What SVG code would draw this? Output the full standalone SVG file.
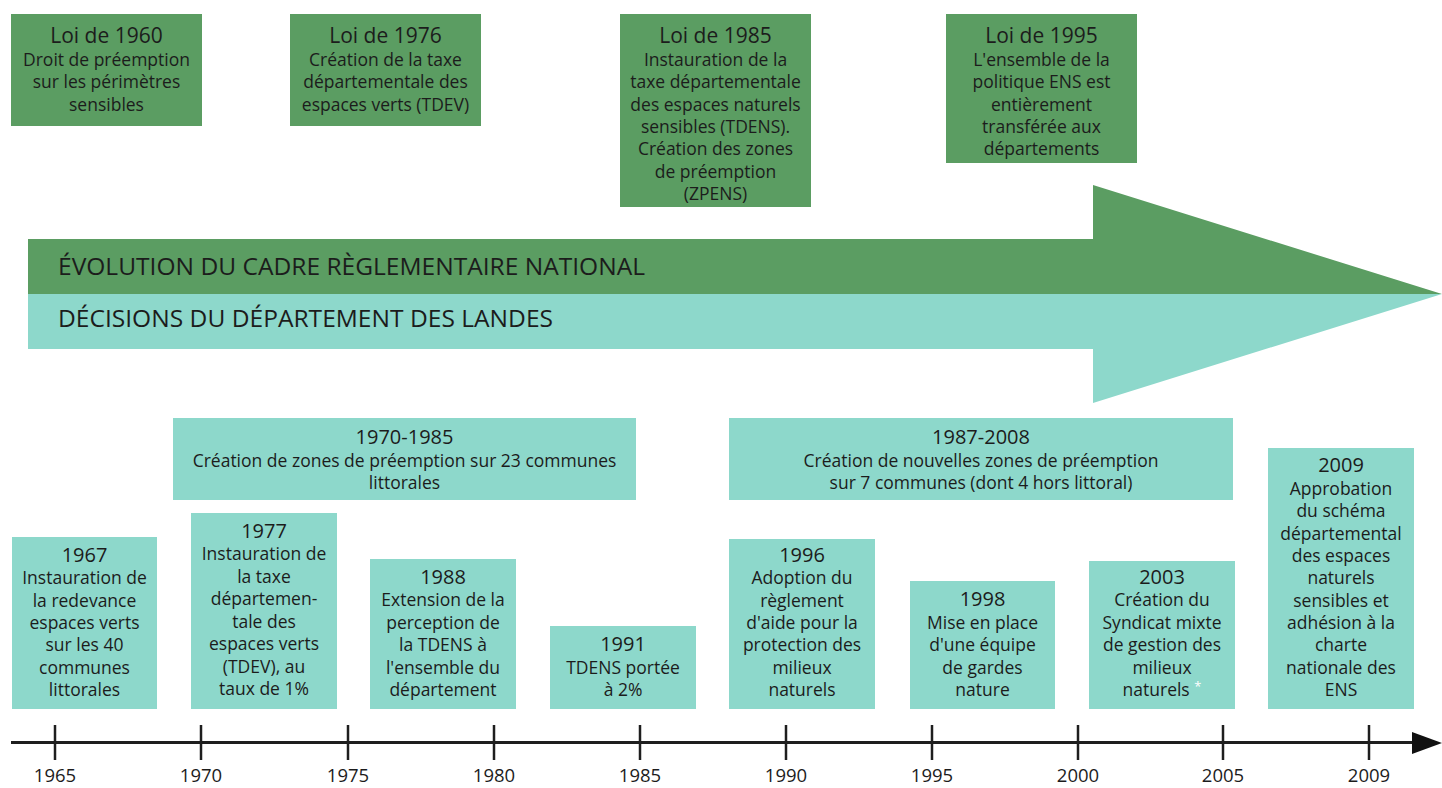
<svg xmlns="http://www.w3.org/2000/svg" width="1442" height="788" viewBox="0 0 1442 788">
<style>
.g{fill:#5b9d62}
.c{fill:#8dd8cb}
text{font-family:"Open Sans","Liberation Sans",sans-serif;fill:#1c1c1c;text-anchor:middle}
.h{font-size:21px}
.hb{font-size:20px}
.b{font-size:17.5px}
.band{font-size:23px;text-anchor:start}
.ax{font-size:18.5px}
.axis{stroke:#1e1e1e;stroke-width:3;fill:none}
.tick{stroke:#1e1e1e;stroke-width:2.5}
</style>
<rect width="1442" height="788" fill="#ffffff"/>

<g id="arrow">
<polygon class="g" points="28,239 1093,239 1093,185 1442,294 28,294"/>
<polygon class="c" points="28,294 1442,294 1093,403 1093,349 28,349"/>
<text class="band" x="58" y="275" textLength="587" lengthAdjust="spacingAndGlyphs">ÉVOLUTION DU CADRE RÈGLEMENTAIRE NATIONAL</text>
<text class="band" x="58" y="327" textLength="495" lengthAdjust="spacingAndGlyphs">DÉCISIONS DU DÉPARTEMENT DES LANDES</text>
</g>

<g id="n1960">
<rect class="g" x="11" y="14" width="191" height="112"/>
<text class="h" x="106.5" y="43">Loi de 1960</text>
<text class="b" x="106.5" y="66">Droit de préemption</text>
<text class="b" x="106.5" y="88">sur les périmètres</text>
<text class="b" x="106.5" y="111">sensibles</text>
</g>
<g id="n1976">
<rect class="g" x="290" y="14" width="191" height="112"/>
<text class="h" x="385.5" y="43">Loi de 1976</text>
<text class="b" x="385.5" y="66">Création de la taxe</text>
<text class="b" x="385.5" y="88">départementale des</text>
<text class="b" x="385.5" y="111">espaces verts (TDEV)</text>
</g>
<g id="n1985">
<rect class="g" x="620" y="14" width="191" height="193"/>
<text class="h" x="715.5" y="43">Loi de 1985</text>
<text class="b" x="715.5" y="66">Instauration de la</text>
<text class="b" x="715.5" y="88">taxe départementale</text>
<text class="b" x="715.5" y="111">des espaces naturels</text>
<text class="b" x="715.5" y="133">sensibles (TDENS).</text>
<text class="b" x="715.5" y="155">Création des zones</text>
<text class="b" x="715.5" y="178">de préemption</text>
<text class="b" x="715.5" y="200">(ZPENS)</text>
</g>
<g id="n1995">
<rect class="g" x="946" y="14" width="191" height="149"/>
<text class="h" x="1041.5" y="43">Loi de 1995</text>
<text class="b" x="1041.5" y="66">L'ensemble de la</text>
<text class="b" x="1041.5" y="88">politique ENS est</text>
<text class="b" x="1041.5" y="111">entièrement</text>
<text class="b" x="1041.5" y="133">transférée aux</text>
<text class="b" x="1041.5" y="155">départements</text>
</g>

<g id="n1970-1985">
<rect class="c" x="173" y="418" width="463" height="82"/>
<text class="hb" x="404.5" y="444">1970-1985</text>
<text class="b" x="404.5" y="467">Création de zones de préemption sur 23 communes</text>
<text class="b" x="404.5" y="489">littorales</text>
</g>
<g id="n1987-2008">
<rect class="c" x="729" y="418" width="504" height="82"/>
<text class="hb" x="981" y="444">1987-2008</text>
<text class="b" x="981" y="467">Création de nouvelles zones de préemption</text>
<text class="b" x="981" y="489">sur 7 communes (dont 4 hors littoral)</text>
</g>
<g id="n1967">
<rect class="c" x="12" y="537" width="145" height="172"/>
<text class="hb" x="84.5" y="562">1967</text>
<text class="b" x="84.5" y="584">Instauration de</text>
<text class="b" x="84.5" y="607">la redevance</text>
<text class="b" x="84.5" y="629">espaces verts</text>
<text class="b" x="84.5" y="651">sur les 40</text>
<text class="b" x="84.5" y="674">communes</text>
<text class="b" x="84.5" y="696">littorales</text>
</g>
<g id="n1977">
<rect class="c" x="191" y="513" width="146" height="196"/>
<text class="hb" x="264" y="538">1977</text>
<text class="b" x="264" y="560">Instauration de</text>
<text class="b" x="264" y="583">la taxe</text>
<text class="b" x="264" y="605">départemen-</text>
<text class="b" x="264" y="628">tale des</text>
<text class="b" x="264" y="650">espaces verts</text>
<text class="b" x="264" y="673">(TDEV), au</text>
<text class="b" x="264" y="695">taux de 1%</text>
</g>
<g id="n1988">
<rect class="c" x="370" y="559" width="146" height="150"/>
<text class="hb" x="443" y="584">1988</text>
<text class="b" x="443" y="606">Extension de la</text>
<text class="b" x="443" y="629">perception de</text>
<text class="b" x="443" y="651">la TDENS à</text>
<text class="b" x="443" y="674">l'ensemble du</text>
<text class="b" x="443" y="696">département</text>
</g>
<g id="n1991">
<rect class="c" x="550" y="626" width="146" height="83"/>
<text class="hb" x="623" y="651">1991</text>
<text class="b" x="623" y="674">TDENS portée</text>
<text class="b" x="623" y="696">à 2%</text>
</g>
<g id="n1996">
<rect class="c" x="729" y="539" width="146" height="170"/>
<text class="hb" x="802" y="562">1996</text>
<text class="b" x="802" y="584">Adoption du</text>
<text class="b" x="802" y="607">règlement</text>
<text class="b" x="802" y="629">d'aide pour la</text>
<text class="b" x="802" y="651">protection des</text>
<text class="b" x="802" y="674">milieux</text>
<text class="b" x="802" y="696">naturels</text>
</g>
<g id="n1998">
<rect class="c" x="910" y="581" width="145" height="128"/>
<text class="hb" x="982.5" y="606">1998</text>
<text class="b" x="982.5" y="629">Mise en place</text>
<text class="b" x="982.5" y="651">d'une équipe</text>
<text class="b" x="982.5" y="674">de gardes</text>
<text class="b" x="982.5" y="696">nature</text>
</g>
<g id="n2003">
<rect class="c" x="1089" y="561" width="146" height="148"/>
<text class="hb" x="1162" y="584">2003</text>
<text class="b" x="1162" y="606">Création du</text>
<text class="b" x="1162" y="629">Syndicat mixte</text>
<text class="b" x="1162" y="651">de gestion des</text>
<text class="b" x="1162" y="674">milieux</text>
<text class="b" x="1162" y="696">naturels <tspan fill="#ffffff" font-size="13" dy="-5">*</tspan></text>
</g>
<g id="n2009">
<rect class="c" x="1268" y="448" width="146" height="261"/>
<text class="hb" x="1341" y="472">2009</text>
<text class="b" x="1341" y="495">Approbation</text>
<text class="b" x="1341" y="517">du schéma</text>
<text class="b" x="1341" y="540">départemental</text>
<text class="b" x="1341" y="562">des espaces</text>
<text class="b" x="1341" y="584">naturels</text>
<text class="b" x="1341" y="607">sensibles et</text>
<text class="b" x="1341" y="629">adhésion à la</text>
<text class="b" x="1341" y="651">charte</text>
<text class="b" x="1341" y="674">nationale des</text>
<text class="b" x="1341" y="696">ENS</text>
</g>

<g id="connectors">
<line class="axis" x1="11" y1="742.5" x2="1416" y2="742.5"/>
<polygon points="1412,732 1442,743 1412,754" fill="#111111"/>
<g class="tick">
<line x1="55" y1="725" x2="55" y2="760"/>
<line x1="201" y1="725" x2="201" y2="760"/>
<line x1="348" y1="725" x2="348" y2="760"/>
<line x1="494" y1="725" x2="494" y2="760"/>
<line x1="640" y1="725" x2="640" y2="760"/>
<line x1="786" y1="725" x2="786" y2="760"/>
<line x1="932" y1="725" x2="932" y2="760"/>
<line x1="1078" y1="725" x2="1078" y2="760"/>
<line x1="1223" y1="725" x2="1223" y2="760"/>
<line x1="1369" y1="725" x2="1369" y2="760"/>
</g>
</g>
<g id="axis-labels">
<text class="ax" x="55" y="782">1965</text>
<text class="ax" x="201" y="782">1970</text>
<text class="ax" x="348" y="782">1975</text>
<text class="ax" x="494" y="782">1980</text>
<text class="ax" x="640" y="782">1985</text>
<text class="ax" x="786" y="782">1990</text>
<text class="ax" x="932" y="782">1995</text>
<text class="ax" x="1078" y="782">2000</text>
<text class="ax" x="1223" y="782">2005</text>
<text class="ax" x="1369" y="782">2009</text>
</g>
</svg>
